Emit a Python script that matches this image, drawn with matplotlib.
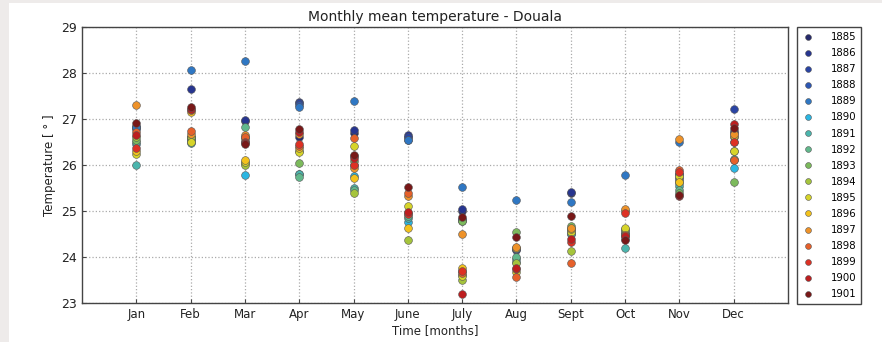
import matplotlib
matplotlib.use("Agg")
import matplotlib.pyplot as plt
from matplotlib.patches import Rectangle

months = ["Jan", "Feb", "Mar", "Apr", "May", "June", "July", "Aug", "Sept", "Oct", "Nov", "Dec"]
years = [1885, 1886, 1887, 1888, 1889, 1890, 1891, 1892, 1893,
         1894, 1895, 1896, 1897, 1898, 1899, 1900, 1901]

# temperature per month (columns) for each year (rows)
t1885 = [26.85, 26.60, 26.95, 26.60, 26.70, 26.60, 25.00, 24.20, 25.40, 24.50, 25.80, 26.75]
t1886 = [26.80, 27.65, 26.98, 27.37, 26.76, 26.65, 25.05, 24.15, 25.42, 24.45, 25.75, 26.70]
t1887 = [26.82, 26.60, 26.60, 27.35, 26.20, 26.60, 24.80, 24.17, 24.60, 24.50, 25.70, 27.22]
t1888 = [26.78, 26.55, 26.50, 27.30, 26.00, 26.55, 24.82, 24.17, 24.55, 24.55, 25.80, 26.60]
t1889 = [26.83, 28.07, 28.26, 27.27, 27.40, 26.54, 25.53, 25.24, 25.19, 25.78, 26.51, 26.49]
t1890 = [26.45, 26.50, 25.78, 25.80, 25.76, 24.77, 23.70, 23.90, 24.50, 24.40, 25.60, 25.94]
t1891 = [26.00, 26.47, 26.05, 25.80, 25.50, 24.85, 23.60, 23.96, 24.50, 24.20, 25.55, 26.10]
t1892 = [26.50, 26.55, 26.83, 25.74, 25.45, 24.90, 24.78, 24.00, 24.60, 24.50, 25.45, 26.14]
t1893 = [26.55, 26.58, 26.56, 26.04, 26.09, 24.95, 24.78, 24.54, 24.67, 24.58, 25.40, 25.64]
t1894 = [26.60, 26.60, 26.00, 26.30, 25.40, 24.38, 23.51, 23.88, 24.12, 24.60, 25.65, 26.30]
t1895 = [26.25, 26.50, 26.07, 26.28, 26.41, 25.11, 23.58, 23.68, 24.55, 24.62, 25.77, 26.30]
t1896 = [26.30, 27.15, 26.10, 26.38, 25.71, 24.64, 23.77, 24.20, 24.60, 25.00, 25.62, 26.62]
t1897 = [27.30, 26.68, 26.65, 26.67, 25.94, 25.33, 24.49, 24.22, 24.64, 25.05, 26.56, 26.67]
t1898 = [26.72, 26.74, 26.60, 26.41, 26.58, 25.40, 23.66, 23.57, 23.86, 24.47, 25.89, 26.10]
t1899 = [26.38, 27.20, 26.50, 26.45, 26.00, 24.93, 23.70, 23.75, 24.33, 24.95, 25.85, 26.50]
t1900 = [26.65, 27.22, 26.48, 26.72, 26.15, 24.97, 23.20, 23.77, 24.40, 24.45, 25.33, 26.90]
t1901 = [26.92, 27.27, 26.45, 26.78, 26.21, 25.53, 24.86, 24.44, 24.90, 24.38, 25.35, 26.80]

series = [t1885, t1886, t1887, t1888, t1889, t1890, t1891, t1892, t1893,
          t1894, t1895, t1896, t1897, t1898, t1899, t1900, t1901]

colors = ["#262a6b", "#27358f", "#2a44a3", "#2d57b3", "#2f77c3", "#2bb6e2",
          "#4bb5ad", "#62b88c", "#7cba5c", "#a5c43c", "#d6d42a", "#f3c21c",
          "#ee9229", "#e6602a", "#dd3124", "#bd1e1f", "#781818"]

fig = plt.figure(figsize=(8.82, 3.42), dpi=100)
fig.patch.set_facecolor("white")
# light grey frame strips of the source image
fig.patches.append(Rectangle((0, 0), 9 / 882, 1, transform=fig.transFigure,
                             facecolor="#eeebea", edgecolor="none", zorder=0))
fig.patches.append(Rectangle((0, 1 - 3 / 342), 1, 3 / 342, transform=fig.transFigure,
                             facecolor="#eeebea", edgecolor="none", zorder=0))

ax = fig.add_axes([82 / 882, 1 - 303 / 342, (788 - 82) / 882, (303 - 27) / 342])
x = list(range(1, 13))
for yr, vals, c in zip(years, series, colors):
    ax.plot(x, vals, linestyle="none", marker="o", markersize=5.6,
            markerfacecolor=c, markeredgecolor="#555555", markeredgewidth=0.4,
            label=str(yr), zorder=3)

ax.set_xlim(0, 13)
ax.set_ylim(23, 29)
ax.set_xticks(x)
ax.set_xticklabels(months, fontsize=8.5, color="#222222")
ax.set_yticks([23, 24, 25, 26, 27, 28, 29])
ax.tick_params(axis="y", labelsize=9, colors="#222222")
ax.tick_params(direction="in", length=3, color="#444444")
ax.grid(True, linestyle=":", color="#aaaaaa", linewidth=0.9)
for s in ax.spines.values():
    s.set_color("#444444")
    s.set_linewidth(1.0)
ax.set_xlabel("Time [months]", fontsize=8.5, color="#222222", labelpad=2)
ax.set_ylabel("Temperature [ ° ]", fontsize=8.5, color="#222222")
ax.set_title("Monthly mean temperature - Douala", fontsize=10, color="#222222", pad=4)

leg = ax.legend(loc="upper left", bbox_to_anchor=(797 / 882, 1 - 27 / 342),
                bbox_transform=fig.transFigure, borderaxespad=0, fontsize=7.3,
                markerscale=0.75, handletextpad=1.6, labelspacing=0.6, borderpad=0.5,
                fancybox=False, framealpha=1, numpoints=1, handlelength=1.2)
leg.get_frame().set_edgecolor("#444444")
leg.get_frame().set_linewidth(1.0)

fig.savefig("out.png", dpi=100, facecolor=fig.get_facecolor())
